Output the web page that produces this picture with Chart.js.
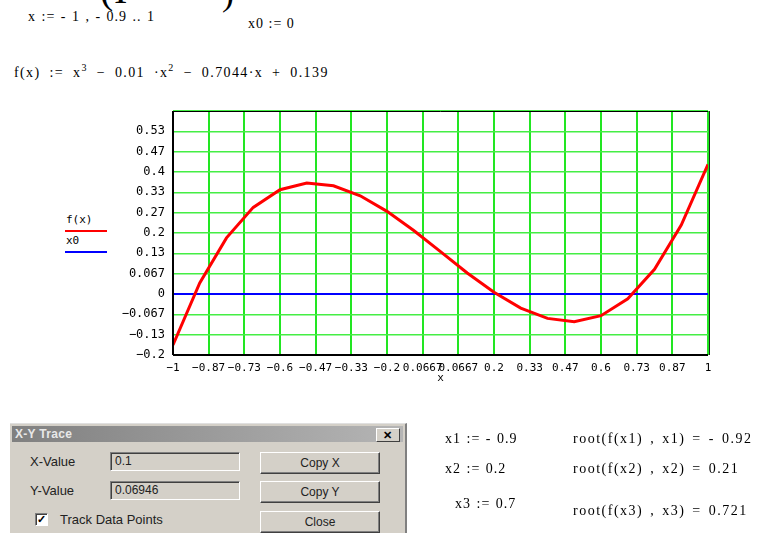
<!DOCTYPE html>
<html>
<head>
<meta charset="utf-8">
<script src="https://cdn.jsdelivr.net/npm/chart.js@4/dist/chart.umd.min.js"></script>
<style>
  html,body{margin:0;padding:0;background:#fff;}
  body{width:766px;height:533px;position:relative;overflow:hidden;font-family:"Liberation Serif",serif;color:#000;}
  .t{position:absolute;white-space:pre;font-size:14px;line-height:15px;letter-spacing:0.6px;}
  #chartWrap{position:absolute;left:0;top:0;width:766px;height:533px;}
  .dlg{position:absolute;left:10px;top:423px;width:395px;height:115px;background:#d4d0c8;border-right:2px solid #808080;border-top:1px solid #e0e0e0;font-family:"Liberation Sans",Arial,sans-serif;font-size:13px;}
  .bar{position:absolute;left:2px;top:2px;right:2px;height:16px;background:linear-gradient(90deg,#808080,#b5b5b5);color:#e8e8e8;font-weight:bold;font-size:12px;line-height:16px;padding-left:3px;letter-spacing:0.3px;}
  .xbtn{position:absolute;right:3px;top:2px;width:22px;height:12px;background:#d4d0c8;border:1px solid;border-color:#fff #404040 #404040 #fff;font-size:11px;line-height:12px;text-align:center;color:#000;font-weight:bold;}
  .lab{position:absolute;color:#222;}
  .fld{position:absolute;width:124px;height:17px;border:1px solid;border-color:#808080 #fff #fff #808080;box-shadow:inset 1px 1px 0 #404040;padding-left:4px;line-height:17px;color:#222;font-size:12px;}
  .btn{position:absolute;width:118px;height:20px;border:1px solid;border-color:#fff #404040 #404040 #fff;box-shadow:inset -1px -1px 0 #808080;text-align:center;line-height:20px;color:#222;font-size:12px;}
  .chk{position:absolute;width:11px;height:11px;background:#fff;border:1px solid;border-color:#808080 #fff #fff #808080;box-shadow:inset 1px 1px 0 #404040;font-size:11px;line-height:11px;text-align:center;font-weight:bold;}
  .leg{position:absolute;font-family:"DejaVu Sans Mono",monospace;font-size:11px;}
  .ln{position:absolute;height:2px;}
  sup{font-size:10px;vertical-align:6px;line-height:0;}
</style>
</head>
<body>
<div class="t" style="left:100px;top:-30px;font-size:40px;line-height:40px;">(Ι</div>
<div class="t" style="left:222px;top:-25px;font-size:36px;line-height:36px;">)</div>
<div class="t" style="left:28px;top:9px;letter-spacing:1px;word-spacing:1px;">x := - 1 , - 0.9 .. 1</div>
<div class="t" style="left:248px;top:16px;letter-spacing:1px;">x0 := 0</div>
<div class="t" style="left:14px;top:65px;letter-spacing:1.4px;word-spacing:4px;">f(x) := x<sup>3</sup> − 0.01 ·x<sup>2</sup> − 0.7044·x + 0.139</div>

<div class="leg" style="left:66px;top:213px;">f(x)</div>
<div class="ln" style="left:65px;top:230px;width:42px;background:#ff0000;"></div>
<div class="leg" style="left:66px;top:234px;">x0</div>
<div class="ln" style="left:65px;top:251px;width:42px;background:#0000ff;"></div>

<div id="chartWrap"><canvas id="c" width="766" height="533"></canvas></div>

<div class="dlg">
  <div class="bar">X-Y Trace<div class="xbtn">✕</div></div>
  <div class="lab" style="left:20px;top:30px;">X-Value</div>
  <div class="fld" style="left:100px;top:28px;">0.1</div>
  <div class="btn" style="left:250px;top:28px;">Copy X</div>
  <div class="lab" style="left:20px;top:59px;">Y-Value</div>
  <div class="fld" style="left:100px;top:57px;">0.06946</div>
  <div class="btn" style="left:250px;top:57px;">Copy Y</div>
  <div class="chk" style="left:25px;top:89px;">✓</div>
  <div class="lab" style="left:50px;top:88px;">Track Data Points</div>
  <div class="btn" style="left:250px;top:87px;">Close</div>
</div>

<div class="t" style="left:445px;top:431px;letter-spacing:1px;word-spacing:1px;">x1 := - 0.9</div>
<div class="t" style="left:573px;top:431px;letter-spacing:1.5px;word-spacing:2px;">root(f(x1) , x1) = - 0.92</div>
<div class="t" style="left:445px;top:461px;letter-spacing:1px;word-spacing:1px;">x2 := 0.2</div>
<div class="t" style="left:573px;top:461px;letter-spacing:1.5px;word-spacing:2px;">root(f(x2) , x2) = 0.21</div>
<div class="t" style="left:455px;top:496px;letter-spacing:1px;word-spacing:1px;">x3 := 0.7</div>
<div class="t" style="left:573px;top:503px;letter-spacing:1.5px;word-spacing:2px;">root(f(x3) , x3) = 0.721</div>

<script>
// ---- data ----
const xValues = [-1, -0.9, -0.8, -0.7, -0.6, -0.5, -0.4, -0.3, -0.2, -0.1, 0, 0.1, 0.2, 0.3, 0.4, 0.5, 0.6, 0.7, 0.8, 0.9, 1];
const fValues = [-0.167, 0.036, 0.184, 0.284, 0.342, 0.364, 0.355, 0.322, 0.271, 0.208, 0.139, 0.069, 0.006, -0.046, -0.080, -0.091, -0.071, -0.016, 0.081, 0.226, 0.425];
const x0Values = [0, 0, 0, 0, 0, 0, 0, 0, 0, 0, 0, 0, 0, 0, 0, 0, 0, 0, 0, 0, 0];

const xTickValues = [-1, -0.8667, -0.7333, -0.6, -0.4667, -0.3333, -0.2, -0.0667, 0.0667, 0.2, 0.3333, 0.4667, 0.6, 0.7333, 0.8667, 1];
const xTickLabels = ['−1', '−0.87', '−0.73', '−0.6', '−0.47', '−0.33', '−0.2', '0.0667', '0.0667', '0.2', '0.33', '0.47', '0.6', '0.73', '0.87', '1'];
const yTickValues = [-0.2, -0.1333, -0.0667, 0, 0.0667, 0.1333, 0.2, 0.2667, 0.3333, 0.4, 0.4667, 0.5333, 0.6];
const yTickLabels = ['−0.2', '−0.13', '−0.067', '0', '0.067', '0.13', '0.2', '0.27', '0.33', '0.4', '0.47', '0.53', ''];

const boxPlugin = {
  id: 'box',
  afterDraw(chart) {
    const a = chart.chartArea, ctx = chart.ctx;
    ctx.save();
    ctx.strokeStyle = '#000';
    ctx.lineWidth = 1;
    ctx.beginPath();
    ctx.moveTo(a.left, a.top + 0.5); ctx.lineTo(a.right, a.top + 0.5);
    ctx.stroke();
    ctx.lineWidth = 2;
    ctx.beginPath();
    ctx.moveTo(a.left, a.top); ctx.lineTo(a.left, a.bottom);
    ctx.moveTo(a.left, a.bottom); ctx.lineTo(a.right, a.bottom);
    ctx.stroke();
    ctx.lineWidth = 1;
    ctx.strokeStyle = '#222';
    ctx.beginPath();
    ctx.moveTo(a.right + 1.5, a.top); ctx.lineTo(a.right + 1.5, a.bottom);
    ctx.stroke();
    ctx.restore();
  }
};

new Chart(document.getElementById('c'), {
  type: 'line',
  data: {
    labels: xValues,
    datasets: [
      { label: 'f(x)', data: xValues.map((x, i) => ({x: x, y: fValues[i]})), borderColor: '#ff0000', borderWidth: 3, pointRadius: 0, tension: 0, order: 1 },
      { label: 'x0', data: xValues.map((x, i) => ({x: x, y: x0Values[i]})), borderColor: '#0000ff', borderWidth: 2, pointRadius: 0, tension: 0, order: 2 }
    ]
  },
  options: {
    responsive: false,
    animation: false,
    events: [],
    layout: { padding: { left: 100, top: 111, right: 58, bottom: 144 } },
    plugins: { legend: { display: false }, tooltip: { enabled: false } },
    scales: {
      x: {
        type: 'linear', min: -1, max: 1,
        afterBuildTicks: s => { s.ticks = xTickValues.map(v => ({value: v})); },
        afterFit: s => { s.height = 34; },
        grid: { color: '#22e622', lineWidth: 2, drawTicks: false },
        border: { display: false },
        ticks: { autoSkip: false, maxRotation: 0, padding: 7, color: '#000',
          font: { family: 'DejaVu Sans Mono', size: 11 },
          callback: (v, i) => xTickLabels[i] },
        title: { display: true, text: 'x', color: '#000', padding: {top: 1}, font: { family: 'DejaVu Sans Mono', size: 11 } }
      },
      y: {
        type: 'linear', min: -0.2, max: 0.6,
        afterBuildTicks: s => { s.ticks = yTickValues.map(v => ({value: v})); },
        afterFit: s => { s.width = 73; },
        grid: { color: '#44ee44', lineWidth: 1.5, drawTicks: false },
        border: { display: false },
        ticks: { autoSkip: false, padding: 8, color: '#000',
          font: { family: 'DejaVu Sans Mono', size: 12 },
          callback: (v, i) => yTickLabels[i] }
      }
    }
  },
  plugins: [boxPlugin]
});
</script>
</body>
</html>
